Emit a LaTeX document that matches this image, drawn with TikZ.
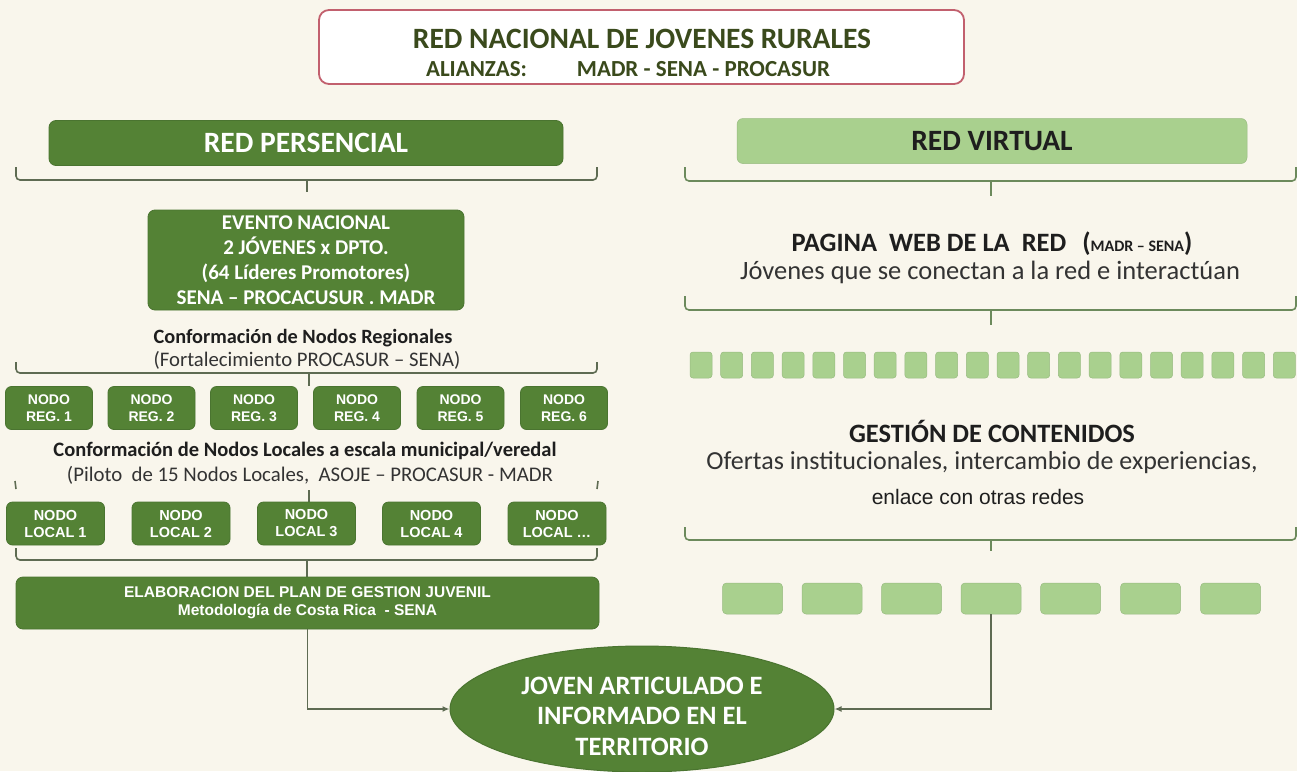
\documentclass[tikz,border=0pt]{standalone}
\usepackage{fontspec}
\setmainfont{Carlito}
\newfontfamily\arialf{Liberation Sans}
\usetikzlibrary{shapes.geometric,arrows.meta}
\definecolor{bg}{HTML}{F9F6EC}
\definecolor{dkg}{HTML}{548235}
\definecolor{dkgb}{HTML}{4A7430}
\definecolor{ltg}{HTML}{A9D08E}
\definecolor{brc}{HTML}{5E6B52}
\definecolor{brcr}{HTML}{6C8A5C}
\definecolor{ttl}{HTML}{3A4A1C}
\definecolor{pinkb}{HTML}{C2606E}
\definecolor{txt}{HTML}{1E1E1E}
\definecolor{txtr}{HTML}{333333}
\tikzset{
  darkbox/.style={fill=dkg, draw=dkgb, line width=0.8pt, rounded corners=7pt, text=white, align=center, inner sep=0pt},
  nodobox/.style={darkbox, rounded corners=6pt, font=\arialf\bfseries\fontsize{14}{16.5}\selectfont},
  localbox/.style={nodobox, font=\arialf\bfseries\fontsize{14.5}{17}\selectfont, minimum width=98, minimum height=43},
  lightbox/.style={fill=ltg, draw=ltg!90!black, line width=0.5pt, rounded corners=5pt, inner sep=0pt},
  brace/.style={draw=brc, line width=1.6pt, rounded corners=4pt},
  bracer/.style={draw=brcr, line width=1.6pt, rounded corners=4pt},
  conn/.style={draw=brc, line width=1.4pt, -{Latex[length=7pt,width=6pt]}},
  lbl/.style={inner sep=0pt, align=center}
}
\begin{document}
\begin{tikzpicture}[x=1pt,y=-1pt]
\fill[bg] (0,0) rectangle (1297,771);
\useasboundingbox (0,0) rectangle (1297,771);

% Title
\node[draw=pinkb, line width=1.8pt, fill=white, rounded corners=10pt, minimum width=645, minimum height=74, inner sep=0pt] (title) at (641.5,47) {};
\node[lbl, text=ttl, font=\bfseries\fontsize{29.5}{32}\selectfont] (t1) at (642,39) {RED NACIONAL DE JOVENES RURALES};
\node[lbl, text=ttl, font=\bfseries\fontsize{23}{26}\selectfont] (t2) at (628,69) {ALIANZAS:\hspace{50pt}MADR - SENA - PROCASUR};

% ---------- Left: RED PERSENCIAL
\node[darkbox, minimum width=514, minimum height=45, font=\bfseries\fontsize{29.5}{32}\selectfont] (rp) at (306,143) {RED PERSENCIAL};
\draw[brace] (16,167) -- (16,180) -- (597,180) -- (597,167);
\draw[draw=brc, line width=1.6pt] (307,180) -- (307,192);

\node[darkbox, minimum width=316, minimum height=100, font=\bfseries\fontsize{21}{25}\selectfont] (ev) at (306,260) {EVENTO NACIONAL\\2 JÓVENES x DPTO.\\(64 Líderes Promotores)\\SENA – PROCACUSUR . MADR};

\node[lbl, text=txt, font=\bfseries\fontsize{20.3}{24}\selectfont] (cr1) at (303,338) {Conformación de Nodos Regionales};
\node[lbl, text=txtr, font=\fontsize{20.7}{24}\selectfont] (cr2) at (307,360) {(Fortalecimiento PROCASUR – SENA)};
\draw[brace] (16,362) -- (16,373) -- (597,373) -- (597,362);
\draw[draw=brc, line width=1.6pt] (309,373) -- (309,386);

\foreach \i/\x in {1/49,2/151.5,3/254,4/357,5/460.5,6/564}{
  \node[nodobox, minimum width=87, minimum height=43] (reg\i) at (\x,408) {NODO\\REG. \i};
}

\node[lbl, text=txt, font=\bfseries\fontsize{20.5}{24}\selectfont] (cl1) at (305,451) {Conformación de Nodos Locales a escala municipal/veredal};
\node[lbl, text=txtr, font=\fontsize{20.8}{24}\selectfont] (cl2) at (310,475) {(Piloto\ \ de 15 Nodos Locales,\ \ ASOJE – PROCASUR - MADR};
\draw[brace] (15,481) -- (16,489);
\draw[brace] (598,481) -- (597,489);
\draw[draw=brc, line width=1.6pt] (309,490) -- (309,502);

\node[localbox] (loc1) at (55.5,523.5) {NODO\\LOCAL 1};
\node[localbox] (loc2) at (181,523.5) {NODO\\LOCAL 2};
\node[localbox] (loc3) at (306.5,523.5) {NODO\\LOCAL 3};
\node[localbox] (loc4) at (431.5,523.5) {NODO\\LOCAL 4};
\node[localbox] (loc5) at (557,523.5) {NODO\\LOCAL \ldots};

\draw[brace] (16,548) -- (16,560) -- (597,560) -- (597,548);
\draw[draw=brc, line width=1.6pt] (307,560) -- (307,577);

\node[darkbox, minimum width=583, minimum height=52, font=\arialf\bfseries\fontsize{15.5}{18}\selectfont] (elab) at (307.5,603) {ELABORACION DEL PLAN DE GESTION JUVENIL\\Metodología de Costa Rica\ \ - SENA};

% ---------- Right: RED VIRTUAL
\node[lightbox, rounded corners=6pt, minimum width=510, minimum height=45, font=\bfseries\fontsize{29.5}{32}\selectfont, text=txt] (rv) at (992,141) {RED VIRTUAL};
\draw[bracer] (685,167) -- (685,181) -- (1296,181) -- (1296,167);
\draw[draw=brcr, line width=1.6pt] (991,181) -- (991,196);

\node[lbl, text=txt, font=\bfseries\fontsize{26.5}{30}\selectfont] (pw1) at (992,244) {PAGINA\ \ WEB DE LA\ \ RED\hspace{16pt}({\fontsize{16}{18}\selectfont MADR – SENA})};
\node[lbl, text=txtr, font=\fontsize{26.5}{30}\selectfont] (pw2) at (990,272) {Jóvenes que se conectan a la red e interactúan};
\draw[bracer] (685,296) -- (685,310) -- (1296,310) -- (1296,296);
\draw[draw=brcr, line width=1.6pt] (991,310) -- (991,325);

\foreach \i in {0,1,2,3,4,5,6,7,8,9,10,11,12,13,14,15,16,17,18,19}{
  \node[lightbox, rounded corners=3pt, minimum width=22, minimum height=26] (sq\i) at (701+\i*30.7,365) {};
}

\node[lbl, text=txt, font=\bfseries\fontsize{26.5}{30}\selectfont] (gc1) at (992,431) {GESTIÓN DE CONTENIDOS};
\node[lbl, text=txtr, font=\fontsize{26}{30}\selectfont] (gc2) at (982,463) {Ofertas institucionales, intercambio de experiencias,};
\node[lbl, text=txt, font=\arialf\fontsize{21}{25}\selectfont] (gc3) at (978,497) {enlace con otras redes};
\draw[bracer] (685,527) -- (685,540) -- (1296,540) -- (1296,527);
\draw[draw=brcr, line width=1.6pt] (991,540) -- (991,551);

\foreach \i/\x in {1/752.5,2/832,3/911.5,4/991,5/1070.5,6/1150.5,7/1230.5}{
  \node[lightbox, rounded corners=4pt, minimum width=60, minimum height=31] (b\i) at (\x,598.5) {};
}

% ---------- Ellipse
\node[ellipse, fill=dkg, draw=dkgb, line width=1pt, minimum width=384, minimum height=126, inner sep=0pt] (joven) at (642,709) {};
\node[lbl, text=white, font=\bfseries\fontsize{26.5}{30.5}\selectfont] (joventxt) at (642,716) {JOVEN ARTICULADO E\\INFORMADO EN EL\\TERRITORIO};

\draw[conn] (elab.south) |- (joven.west);
\draw[conn] (b4.south) |- (joven.east);
\end{tikzpicture}
\end{document}
